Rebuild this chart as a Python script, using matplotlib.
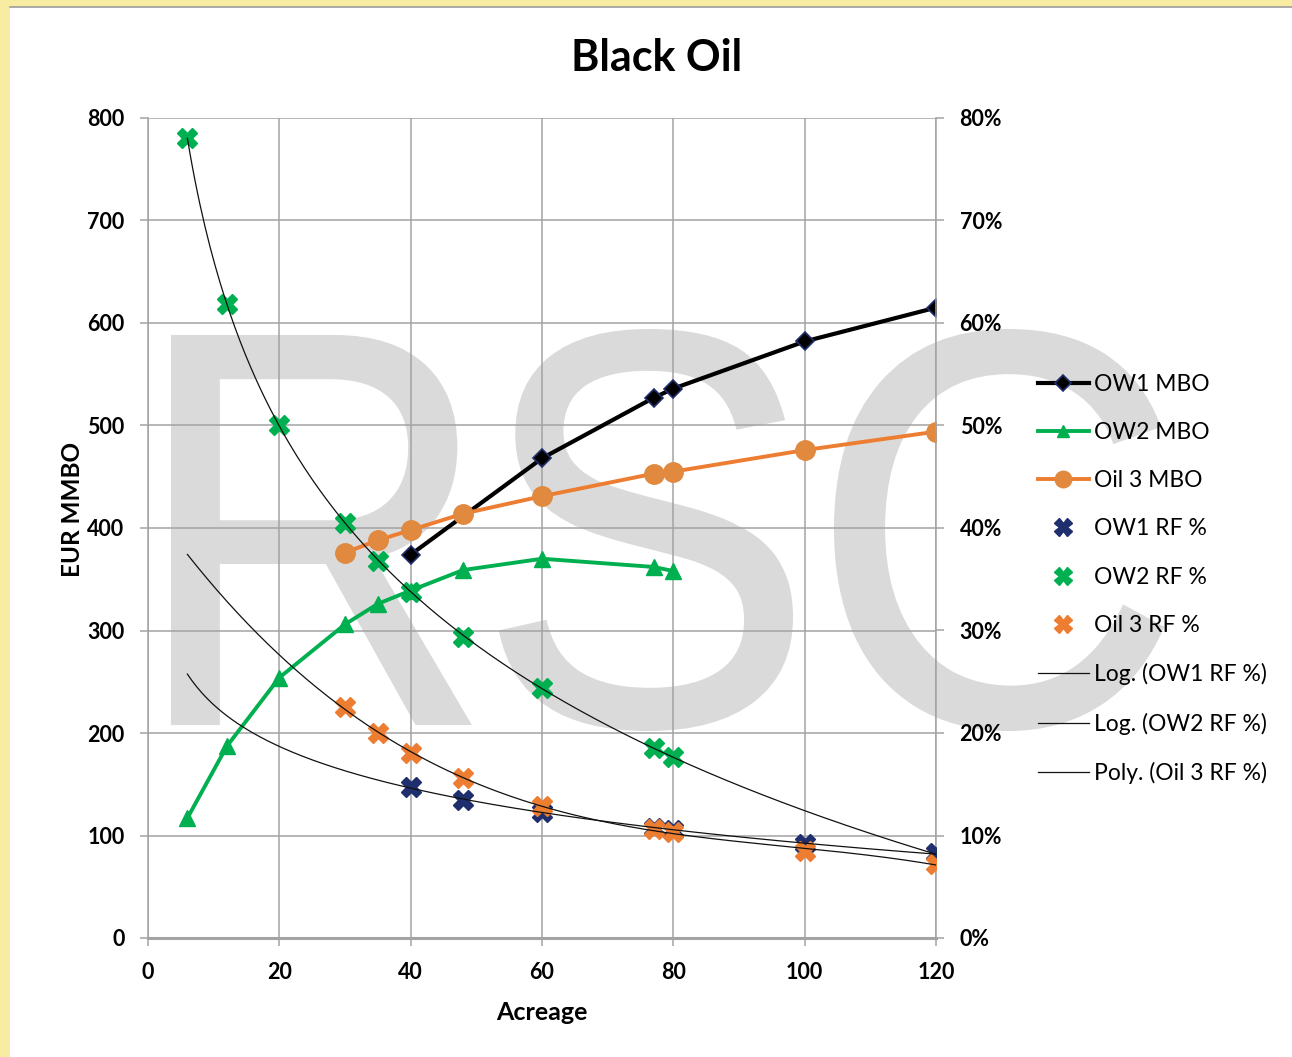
import numpy as np
import matplotlib
matplotlib.use("Agg")
import matplotlib.pyplot as plt
from matplotlib.textpath import TextPath
from matplotlib.patches import PathPatch, Rectangle
from matplotlib.font_manager import FontProperties
from matplotlib.transforms import Affine2D
from matplotlib.lines import Line2D
from matplotlib.ticker import FuncFormatter

# ---- data ----
ow1_acre = [40, 60, 77, 80, 100, 120]
ow1_mbo = [374, 468, 527, 536, 582, 615]
ow1_rf = [14.7, 13.5, 12.3, 10.7, 10.5, 9.2, 8.3]
ow1_rf_acre = [40, 48, 60, 77, 80, 100, 120]

ow2_acre = [6, 12, 20, 30, 35, 40, 48, 60, 77, 80]
ow2_mbo = [117, 187, 254, 306, 326, 339, 359, 370, 362, 358]
ow2_rf = [78.0, 61.9, 50.0, 40.5, 36.8, 33.8, 29.4, 24.4, 18.5, 17.7]

oil3_acre = [30, 35, 40, 48, 60, 77, 80, 100, 120]
oil3_mbo = [376, 388, 398, 414, 431, 453, 455, 476, 494]
oil3_rf = [22.5, 20.0, 18.0, 15.6, 12.9, 10.6, 10.3, 8.5, 7.2]

x_ticks = [0, 20, 40, 60, 80, 100, 120]
y_ticks = [0, 100, 200, 300, 400, 500, 600, 700, 800]
pct_ticks = [0, 10, 20, 30, 40, 50, 60, 70, 80]

# ---- styles ----
BLACK = "#000000"
NAVY = "#1F2F6E"
GREEN = "#00B050"
ORANGE = "#ED7D31"
ORANGE_DOT = "#E0893F"
GRID = "#A3A3A3"
FONT = "Lato"

W, H = 1292, 1057
fig = plt.figure(figsize=(W / 100, H / 100), dpi=100)
fig.patch.set_facecolor("#F8EBA2")

# white chart panel inside the yellow frame
panel = Rectangle((10 / W, 0), 1 - 10 / W, 1 - 7 / H, transform=fig.transFigure,
                  facecolor="white", edgecolor="none", zorder=-3)
fig.patches.append(panel)
fig.add_artist(Line2D([10 / W, 1], [1 - 7 / H, 1 - 7 / H], color="#9C9C9C",
                      lw=1.2, transform=fig.transFigure, zorder=-2))

# large background watermark, one letter at a time (pixel boxes)
wm_letters = [("R", 172, 470, 336, 724), ("S", 500, 792, 330, 730), ("C", 835, 1163, 330, 730)]
wm_font = FontProperties(family="Liberation Sans")
for ch, lx0, lx1, ly0, ly1 in wm_letters:
    tp = TextPath((0, 0), ch, size=100, prop=wm_font)
    bb = tp.get_extents()
    sx = (lx1 - lx0) / W / bb.width
    sy = (ly1 - ly0) / H / bb.height
    tr = Affine2D().translate(-bb.x0, -bb.y0).scale(sx, sy).translate(lx0 / W, 1 - ly1 / H)
    fig.patches.append(PathPatch(tr.transform_path(tp), facecolor="#DADADA",
                                 edgecolor="#DADADA", lw=1.5,
                                 transform=fig.transFigure, zorder=-1))

left, right, top, bottom = 148, 936, 118, 938
ax = fig.add_axes([left / W, 1 - bottom / H, (right - left) / W, (bottom - top) / H])
ax.patch.set_alpha(0)
ax2 = ax.twinx()
ax2.patch.set_alpha(0)

ax.set_xlim(0, 120)
ax.set_ylim(0, 800)
ax2.set_ylim(0, 80)
ax.set_xticks(x_ticks)
ax.set_yticks(y_ticks)
ax2.set_yticks(pct_ticks)
ax2.yaxis.set_major_formatter(FuncFormatter(lambda v, p: f"{v:.0f}%"))

ax.grid(True, color=GRID, lw=1.1)
ax.set_axisbelow(True)
for a in (ax, ax2):
    for s in a.spines.values():
        s.set_visible(False)
ax.spines["bottom"].set_visible(True)
ax.spines["bottom"].set_color(GRID)
ax.spines["bottom"].set_linewidth(2.2)
ax.spines["left"].set_visible(True)
ax.spines["left"].set_color(GRID)
ax.spines["left"].set_linewidth(1.1)
ax2.spines["right"].set_visible(True)
ax2.spines["right"].set_color(GRID)
ax2.spines["right"].set_linewidth(1.1)

ax.tick_params(axis="both", direction="out", length=6, width=1.1, color=GRID, pad=11)
ax2.tick_params(axis="y", direction="out", length=6, width=1.1, color=GRID, pad=11)
for lab in ax.get_xticklabels() + ax.get_yticklabels() + ax2.get_yticklabels():
    lab.set_fontsize(15.5)
    lab.set_fontweight("bold")
    lab.set_family(FONT)

# ---- MBO series (left axis) ----
l1, = ax.plot(ow1_acre, ow1_mbo, color=BLACK, lw=3.0, marker="D", ms=9,
              mfc=BLACK, mec=NAVY, mew=1.2, zorder=4, label="OW1 MBO")
l2, = ax.plot(ow2_acre, ow2_mbo, color=GREEN, lw=2.8, marker="^", ms=11,
              mfc=GREEN, mec=GREEN, zorder=4, label="OW2 MBO")
l3, = ax.plot(oil3_acre, oil3_mbo, color=ORANGE, lw=2.8, marker="o", ms=14,
              mfc=ORANGE_DOT, mec=ORANGE_DOT, zorder=4, label="Oil 3 MBO")

# ---- RF % series (right axis) ----
s1, = ax2.plot(ow1_rf_acre, ow1_rf, ls="none", marker="X", ms=15, color=NAVY,
               mec=NAVY, zorder=3, label="OW1 RF %")
s2, = ax2.plot(ow2_acre, ow2_rf, ls="none", marker="X", ms=15, color=GREEN,
               mec=GREEN, zorder=3, label="OW2 RF %")
s3, = ax2.plot(oil3_acre, oil3_rf, ls="none", marker="X", ms=15, color=ORANGE,
               mec=ORANGE, zorder=3, label="Oil 3 RF %")

# ---- trendlines (fitted, extended over 6–120 acres) ----
xs = np.linspace(6, 120, 300)
c1 = np.polyfit(np.log(ow1_rf_acre), ow1_rf, 1)
c2 = np.polyfit(np.log(ow2_acre), ow2_rf, 1)
c3 = np.polyfit(oil3_acre, oil3_rf, 3)
t1, = ax2.plot(xs, np.polyval(c1, np.log(xs)), color="#111111", lw=0.9, zorder=5,
               label="Log. (OW1 RF %)")
t2, = ax2.plot(xs, np.polyval(c2, np.log(xs)), color="#111111", lw=0.9, zorder=5,
               label="Log. (OW2 RF %)")
t3, = ax2.plot(xs, np.polyval(c3, xs), color="#111111", lw=0.9, zorder=5,
               label="Poly. (Oil 3 RF %)")

# ---- text ----
fig.text(657 / W, 1 - 58 / H, "Black Oil", ha="center", va="center",
         fontsize=31, fontweight="bold", family=FONT)
fig.text(72 / W, 1 - 509 / H, "EUR MMBO", ha="center", va="center", rotation=90,
         fontsize=17.5, fontweight="bold", family=FONT)
fig.text(542 / W, 1 - 1013 / H, "Acreage", ha="center", va="center",
         fontsize=18, fontweight="bold", family=FONT)

handles = [l1, l2, l3, s1, s2, s3, t1, t2, t3]
leg = fig.legend(handles, [h.get_label() for h in handles], loc="upper left",
                 bbox_to_anchor=(1017 / W, 1 - 353 / H), frameon=False,
                 prop=FontProperties(family=FONT, size=16.5),
                 handlelength=2.25, handletextpad=0.2, labelspacing=1.19,
                 markerscale=0.85)

fig.savefig("out.png", dpi=100, facecolor=fig.get_facecolor())
